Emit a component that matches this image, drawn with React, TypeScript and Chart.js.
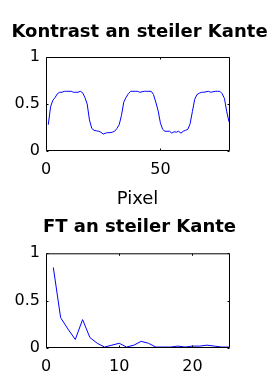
import React, { useEffect, useRef } from "react";
import { Chart, registerables } from "chart.js";

Chart.register(...registerables);

// ---- data ----
const contrastValues = [
  0.28, 0.47, 0.54, 0.57, 0.61, 0.625, 0.625, 0.635, 0.635, 0.635,
  0.635, 0.625, 0.625, 0.625, 0.635, 0.62, 0.57, 0.5, 0.33, 0.24,
  0.22, 0.215, 0.21, 0.2, 0.18, 0.19, 0.195, 0.195, 0.2, 0.21,
  0.24, 0.28, 0.38, 0.52, 0.57, 0.61, 0.635, 0.635, 0.635, 0.635,
  0.625, 0.63, 0.635, 0.635, 0.635, 0.635, 0.6, 0.52, 0.43, 0.3,
  0.23, 0.21, 0.21, 0.21, 0.19, 0.205, 0.2, 0.21, 0.19, 0.21,
  0.22, 0.23, 0.29, 0.42, 0.55, 0.6, 0.615, 0.625, 0.625, 0.63,
  0.635, 0.625, 0.63, 0.635, 0.635, 0.635, 0.61, 0.56, 0.42, 0.31,
];
const ftValues = [
  0.85, 0.32, 0.2, 0.09, 0.3, 0.11, 0.05, 0.01, 0.03, 0.05,
  0.01, 0.03, 0.07, 0.05, 0.01, 0.01, 0.01, 0.02, 0.01, 0.02,
  0.02, 0.03, 0.02, 0.01, 0.01,
];
const topXTicks = [0, 50];
const topYTicks = [0, 0.5, 1];
const bottomXTicks = [0, 10, 20];
const bottomYTicks = [0, 0.5, 1];
const topTitle = "Kontrast an steiler Kante";
const topXLabel = "Pixel";
const bottomTitle = "FT an steiler Kante";

const FONT = "'DejaVu Sans', sans-serif";
const TICK_LEN = 2;

const boxPlugin = {
  id: "matlabBox",
  afterDraw(chart: any) {
    const { ctx, chartArea } = chart;
    const { left, right, top, bottom } = chartArea;
    const xs = chart.scales.x;
    const ys = chart.scales.y;
    const L = left + 0.5;
    const R = right + 0.5;
    const T = top + 0.5;
    const B = bottom - 0.5;
    ctx.save();
    ctx.strokeStyle = "#000";
    ctx.lineWidth = 1;
    ctx.beginPath();
    ctx.rect(L, T, R - L, B - T);
    xs.ticks.forEach((t: any) => {
      const px = Math.round(xs.getPixelForValue(t.value)) + 0.5;
      ctx.moveTo(px, B);
      ctx.lineTo(px, B - TICK_LEN);
      ctx.moveTo(px, T);
      ctx.lineTo(px, T + TICK_LEN);
    });
    ys.ticks.forEach((t: any) => {
      const py = Math.round(ys.getPixelForValue(t.value)) + 0.5;
      ctx.moveTo(L, py);
      ctx.lineTo(L + TICK_LEN, py);
      ctx.moveTo(R, py);
      ctx.lineTo(R - TICK_LEN, py);
    });
    ctx.stroke();
    ctx.restore();
  },
};

function makeConfig(p: {
  values: number[];
  xMin: number;
  xMax: number;
  xTicks: number[];
  yTicks: number[];
  title: string;
  titlePad: { top: number; bottom: number };
  xHeight: number;
  xLabel?: string;
}) {
  const points = p.values.map((v, i) => ({ x: i + 1, y: v }));
  return {
    type: "line",
    data: {
      datasets: [
        {
          data: points,
          borderColor: "#0000ff",
          borderWidth: 1,
          pointRadius: 0,
          fill: false,
          tension: 0,
          yAxisID: "y",
          xAxisID: "x",
        },
      ],
    },
    options: {
      responsive: false,
      animation: false,
      devicePixelRatio: 1,
      layout: { padding: 0 },
      plugins: {
        legend: { display: false },
        tooltip: { enabled: false },
        title: {
          display: true,
          text: p.title,
          color: "#000",
          font: { family: FONT, size: 18, weight: "bold" },
          padding: p.titlePad,
        },
      },
      scales: {
        x: {
          type: "linear",
          min: p.xMin,
          max: p.xMax,
          grid: { display: false, drawTicks: false },
          border: { display: false },
          afterBuildTicks: (s: any) => {
            s.ticks = p.xTicks.map((v) => ({ value: v }));
          },
          afterFit: (s: any) => {
            s.height = p.xHeight;
          },
          ticks: {
            color: "#000",
            font: { family: FONT, size: 16 },
            padding: 9,
            maxRotation: 0,
            autoSkip: false,
            callback: (v: any) => String(v),
          },
          title: {
            display: !!p.xLabel,
            text: p.xLabel || "",
            color: "#000",
            font: { family: FONT, size: 18 },
            padding: { top: 0, bottom: 0 },
          },
        },
        y: {
          type: "linear",
          position: "left",
          min: 0,
          max: 1,
          grid: { display: false, drawTicks: false },
          border: { display: false },
          afterBuildTicks: (s: any) => {
            s.ticks = p.yTicks.map((v) => ({ value: v }));
          },
          afterFit: (s: any) => {
            s.width = 46;
          },
          ticks: {
            color: "#000",
            font: { family: FONT, size: 16 },
            padding: 6,
            callback: (v: any) => String(v),
          },
        },
        yRightSpace: {
          type: "linear",
          position: "right",
          display: true,
          min: 0,
          max: 1,
          grid: { display: false, drawTicks: false },
          border: { display: false },
          ticks: { display: false },
          afterFit: (s: any) => {
            s.width = 50;
          },
        },
      },
    },
    plugins: [boxPlugin],
  } as any;
}

export default function App() {
  const topRef = useRef<HTMLCanvasElement>(null);
  const botRef = useRef<HTMLCanvasElement>(null);

  useEffect(() => {
    const c1 = new Chart(
      topRef.current!,
      makeConfig({
        values: contrastValues,
        xMin: 0,
        xMax: 80,
        xTicks: topXTicks,
        yTicks: topYTicks,
        title: topTitle,
        titlePad: { top: 21.2, bottom: 14.2 },
        xHeight: 59,
        xLabel: topXLabel,
      })
    );
    const c2 = new Chart(
      botRef.current!,
      makeConfig({
        values: ftValues,
        xMin: 0,
        xMax: 25,
        xTicks: bottomXTicks,
        yTicks: bottomYTicks,
        title: bottomTitle,
        titlePad: { top: 6.7, bottom: 15 },
        xHeight: 32,
      })
    );
    return () => {
      c1.destroy();
      c2.destroy();
    };
  }, []);

  return (
    <div
      style={{
        position: "absolute",
        left: 0,
        top: 0,
        width: 279,
        height: 380,
        background: "#fff",
      }}
    >
      <canvas
        ref={topRef}
        width={279}
        height={210}
        style={{ position: "absolute", left: 0, top: 0, display: "block" }}
      />
      <canvas
        ref={botRef}
        width={279}
        height={170}
        style={{ position: "absolute", left: 0, top: 210, display: "block" }}
      />
    </div>
  );
}
